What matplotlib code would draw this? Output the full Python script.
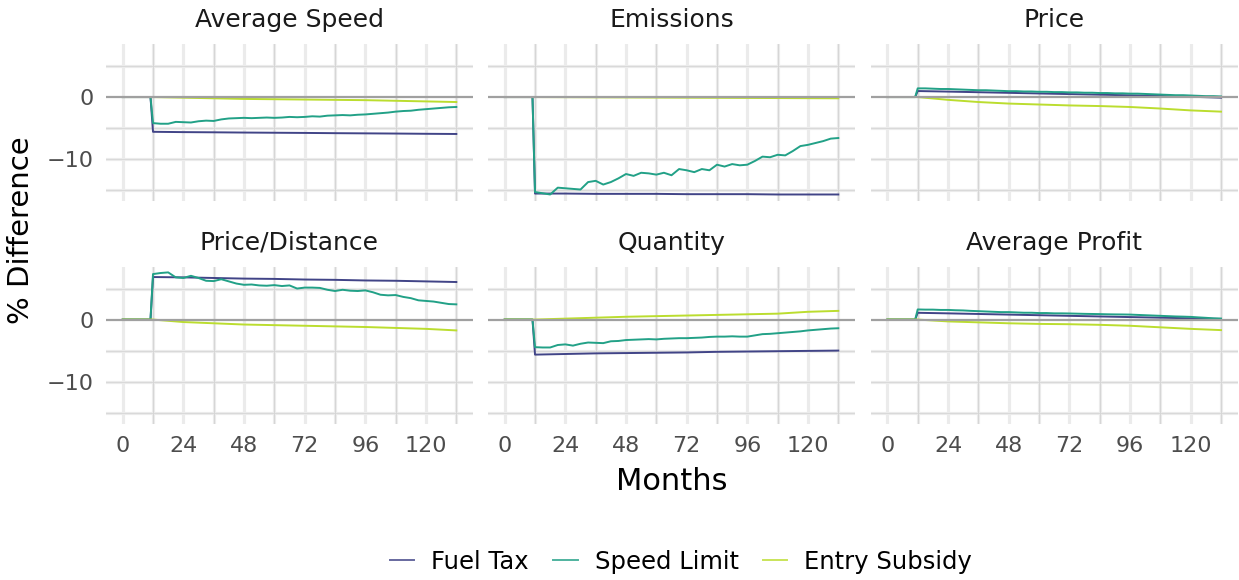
import matplotlib.pyplot as plt
import numpy as np

# monthly grid used for the noisy speed-limit paths, coarse grid for the smooth ones
months_fine = [0, 11, 12, 15, 18, 21, 24, 27, 30, 33, 36, 39, 42, 45, 48, 51, 54, 57, 60, 63, 66,
               69, 72, 75, 78, 81, 84, 87, 90, 93, 96, 99, 102, 105, 108, 111, 114, 117, 120,
               123, 126, 129, 132]
months_coarse = [0, 11, 12, 24, 36, 48, 60, 72, 84, 96, 108, 120, 132]

policies = ['Fuel Tax', 'Speed Limit', 'Entry Subsidy']
colors = ['#414487', '#22A187', '#BBDD2F']
panels = ['Average Speed', 'Emissions', 'Price', 'Price/Distance', 'Quantity', 'Average Profit']

speed_fuel = [0, 0, -5.6, -5.65, -5.68, -5.72, -5.75, -5.78, -5.82, -5.85, -5.88, -5.92, -5.95]
speed_speed = [0, 0, -4.2, -4.3, -4.3, -4.0, -4.05, -4.1, -3.9, -3.8, -3.85, -3.6, -3.45, -3.4,
               -3.35, -3.4, -3.35, -3.3, -3.35, -3.3, -3.2, -3.25, -3.2, -3.1, -3.15, -3.0, -2.95,
               -2.9, -2.95, -2.85, -2.8, -2.7, -2.6, -2.5, -2.35, -2.25, -2.2, -2.05, -1.95,
               -1.85, -1.75, -1.65, -1.6]
speed_entry = [0, 0, 0, -0.1, -0.2, -0.3, -0.35, -0.4, -0.45, -0.5, -0.6, -0.7, -0.8]

emis_fuel = [0, 0, -15.55, -15.55, -15.6, -15.6, -15.6, -15.65, -15.65, -15.65, -15.7, -15.7, -15.7]
emis_speed = [0, 0, -15.3, -15.5, -15.7, -14.6, -14.7, -14.8, -14.9, -13.7, -13.5, -14.1, -13.7,
              -13.1, -12.4, -12.7, -12.2, -12.3, -12.5, -12.2, -12.6, -11.6, -11.8, -12.1, -11.6,
              -11.8, -10.9, -11.2, -10.8, -11.0, -10.9, -10.3, -9.6, -9.7, -9.3, -9.4, -8.7,
              -7.9, -7.7, -7.4, -7.1, -6.7, -6.6]
emis_entry = [0, 0, 0, -0.02, -0.04, -0.06, -0.08, -0.1, -0.12, -0.14, -0.16, -0.18, -0.2]

price_fuel = [0, 0, 0.97, 0.88, 0.78, 0.68, 0.58, 0.48, 0.38, 0.28, 0.18, 0.05, -0.1]
price_speed = [0, 0, 1.4, 1.4, 1.35, 1.3, 1.3, 1.25, 1.2, 1.15, 1.1, 1.1, 1.05, 1.0, 0.95, 0.95,
               0.9, 0.9, 0.85, 0.85, 0.8, 0.8, 0.75, 0.75, 0.7, 0.7, 0.65, 0.65, 0.6, 0.6, 0.55,
               0.55, 0.5, 0.45, 0.4, 0.35, 0.3, 0.3, 0.25, 0.2, 0.15, 0.15, 0.1]
price_entry = [0, 0, 0, -0.45, -0.8, -1.05, -1.2, -1.35, -1.45, -1.6, -1.85, -2.15, -2.35]

ppd_fuel = [0, 0, 6.85, 6.8, 6.7, 6.6, 6.55, 6.45, 6.4, 6.3, 6.25, 6.15, 6.05]
ppd_speed = [0, 0, 7.33, 7.5, 7.6, 6.8, 6.7, 7.05, 6.7, 6.25, 6.2, 6.5, 6.15, 5.8, 5.6, 5.65,
             5.5, 5.45, 5.55, 5.4, 5.5, 5.0, 5.15, 5.15, 5.1, 4.8, 4.6, 4.8, 4.65, 4.6, 4.7,
             4.4, 4.0, 3.9, 3.95, 3.65, 3.45, 3.1, 3.0, 2.9, 2.7, 2.5, 2.45]
ppd_entry = [0, 0, 0, -0.4, -0.6, -0.8, -0.9, -1.0, -1.1, -1.2, -1.35, -1.5, -1.75]

qty_fuel = [0, 0, -5.65, -5.55, -5.45, -5.4, -5.35, -5.3, -5.2, -5.15, -5.1, -5.05, -5.0]
qty_speed = [0, 0, -4.45, -4.5, -4.5, -4.1, -4.0, -4.2, -3.9, -3.7, -3.75, -3.8, -3.5, -3.45,
             -3.3, -3.25, -3.2, -3.15, -3.2, -3.1, -3.05, -3.0, -3.0, -2.95, -2.9, -2.8, -2.75,
             -2.75, -2.7, -2.75, -2.75, -2.55, -2.35, -2.3, -2.2, -2.1, -2.0, -1.9, -1.75,
             -1.65, -1.55, -1.45, -1.4]
qty_entry = [0, 0, 0, 0.15, 0.3, 0.45, 0.55, 0.65, 0.75, 0.85, 0.95, 1.25, 1.4]

profit_fuel = [0, 0, 1.09, 1.0, 0.9, 0.8, 0.7, 0.6, 0.5, 0.4, 0.3, 0.2, 0.1]
profit_speed = [0, 0, 1.63, 1.6, 1.6, 1.55, 1.55, 1.5, 1.47, 1.4, 1.35, 1.3, 1.25, 1.2, 1.2,
                1.15, 1.1, 1.1, 1.05, 1.05, 1.0, 1.0, 0.98, 0.95, 0.92, 0.9, 0.88, 0.85, 0.83,
                0.82, 0.8, 0.75, 0.7, 0.65, 0.6, 0.55, 0.5, 0.47, 0.43, 0.35, 0.28, 0.2, 0.16]
profit_entry = [0, 0, 0, -0.3, -0.45, -0.6, -0.7, -0.75, -0.85, -1.0, -1.25, -1.5, -1.7]

series = {
    'Average Speed': (speed_fuel, speed_speed, speed_entry),
    'Emissions': (emis_fuel, emis_speed, emis_entry),
    'Price': (price_fuel, price_speed, price_entry),
    'Price/Distance': (ppd_fuel, ppd_speed, ppd_entry),
    'Quantity': (qty_fuel, qty_speed, qty_entry),
    'Average Profit': (profit_fuel, profit_speed, profit_entry),
}

W, H = 1239, 580
fig = plt.figure(figsize=(W / 100, H / 100), dpi=100)

col_left = [106, 488, 870.7]
row_top = [44, 266.5]
pw, ph = 367, 157

handles = []
for i, name in enumerate(panels):
    r, c = divmod(i, 3)
    ax = fig.add_axes([col_left[c] / W, 1 - (row_top[r] + ph) / H, pw / W, ph / H])
    ax.set_xlim(-6.6, 138.6)
    ax.set_ylim(-16.75, 8.55)
    for s in ax.spines.values():
        s.set_visible(False)

    # grid: light bands, minor ones with a thin darker centre
    for gx in range(0, 133, 12):
        ax.axvline(gx, color='#EBEBEB', lw=2.3, zorder=0)
        if gx % 24:
            ax.axvline(gx, color='#D2D2D2', lw=0.6, zorder=0.1)
    for gy in [-15, -10, -5, 5]:
        ax.axhline(gy, color='#EBEBEB', lw=2.3, zorder=0)
        ax.axhline(gy, color='#D6D6D6', lw=0.6, zorder=0.1)
    ax.axhline(0, color='#A0A0A0', lw=1.6, zorder=3)

    fuel, speed, entry = series[name]
    h1, = ax.plot(months_coarse, fuel, color=colors[0], lw=1.4, zorder=2)
    h2, = ax.plot(months_fine, speed, color=colors[1], lw=1.4, zorder=2)
    h3, = ax.plot(months_coarse, entry, color=colors[2], lw=1.4, zorder=2)
    if i == 0:
        handles = [h1, h2, h3]

    ax.set_xticks([0, 24, 48, 72, 96, 120])
    ax.set_yticks([-10, 0])
    ax.tick_params(length=0, labelsize=16, labelcolor='#4D4D4D', pad=9)
    if r == 0:
        ax.tick_params(labelbottom=False)
    if c != 0:
        ax.tick_params(labelleft=False)

    ax.text(0.5, 1 + 24 / ph, name, transform=ax.transAxes, ha='center', va='center',
            fontsize=18, color='#1A1A1A')

fig.text(21 / W, 1 - 230 / H, '% Difference', rotation=90, ha='center', va='center',
         fontsize=21)
fig.text(672 / W, 1 - 482 / H, 'Months', ha='center', va='center', fontsize=22)

leg = fig.legend(handles, policies, loc='center', bbox_to_anchor=(681 / W, 1 - 562 / H),
                 ncol=3, frameon=False, fontsize=17.5, handlelength=1.0, columnspacing=1.0,
                 handletextpad=0.7)
for line in leg.get_lines():
    line.set_alpha(0.8)

fig.savefig('out.png', dpi=100)
